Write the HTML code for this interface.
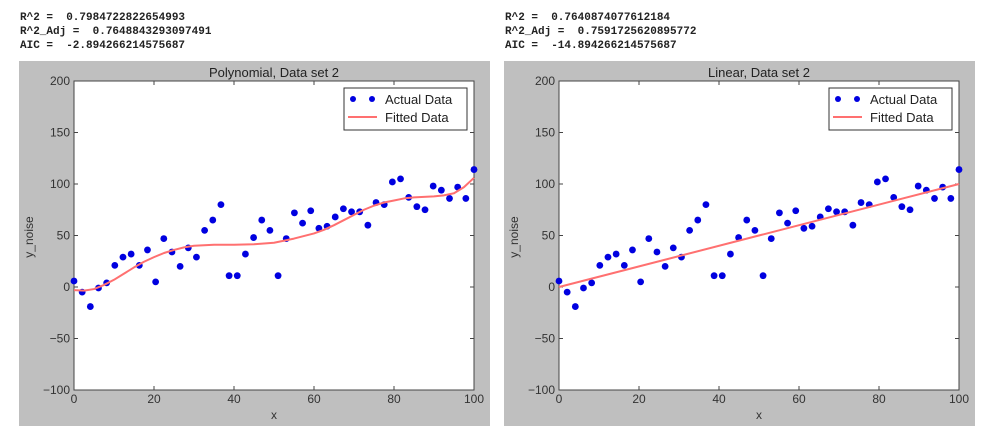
<!DOCTYPE html>
<html><head><meta charset="utf-8"><style>
body{margin:0;background:#fff;width:1000px;height:440px;overflow:hidden}
svg{display:block}
text{white-space:pre}
</style></head><body>
<svg id="c" width="1000" height="440" font-family="Liberation Sans, sans-serif"></svg>
<script>
const xTicks=[0,20,40,60,80,100];
const yTicks=[-100,-50,0,50,100,150,200];
const yNoise=[5.8,-5,-19,-1,4,21,29,32,21,36,5,47,34,20,38,29,55,65,80,11,11,32,48,65,55,11,47,72,62,74,57,59,68,76,73,73,60,82,80,102,105,87,78,75,98,94,86,97,86,114];
const polyX=[0,2.5,5,7.5,10,12.5,15,17.5,20,22.5,25,27.5,30,35,40,45,50,55,60,62.5,65,67.5,70,72.5,75,77.5,80,82.5,85,87.5,90,92.5,95,97.5,100];
const polyY=[-3,-3.5,-2,2,7,13,19,24.5,29,33,36,38.5,40,41,41,41.5,43,47,52,55.5,60,65,70,75,79,82,84,86,87,87.5,88,89,91,97,106];
const linX=[0,100];
const linY=[0,100];
const statsL=["R^2 =  0.7984722822654993","R^2_Adj =  0.7648843293097491","AIC =  -2.894266214575687"];
const statsR=["R^2 =  0.7640874077612184","R^2_Adj =  0.7591725620895772","AIC =  -14.894266214575687"];
const NS="http://www.w3.org/2000/svg";
const svg=document.getElementById('c');
function mk(t,a,p){const e=document.createElementNS(NS,t);for(const k in a)e.setAttribute(k,a[k]);(p||svg).appendChild(e);return e;}
function panel(ox,title,fx,fy,stats,nm){
  const g=mk('g',{});
  
  
  stats.forEach((s,i)=>{const t=mk('text',{x:ox+1,y:20+i*14,'font-family':'Liberation Mono, monospace','font-size':'11','font-weight':'bold',fill:'#222'},g);t.textContent=s;
    });
  const bg=mk('rect',{x:ox,y:61,width:471,height:365,fill:'#bfbfbf'},g);
  
  const L=ox+55,R=ox+455,T=81,B=390;
  const sx=v=>L+(v-0)/100*(R-L), sy=v=>B-(v+100)/300*(B-T);
  const pa=mk('rect',{x:L,y:T,width:R-L,height:B-T,fill:'#fff',stroke:'#444','stroke-width':1},g);
  
  xTicks.forEach(v=>{const x=sx(v);mk('line',{x1:x,x2:x,y1:B,y2:B-4,stroke:'#444'},g);mk('line',{x1:x,x2:x,y1:T,y2:T+4,stroke:'#444'},g);
    const t=mk('text',{x:x,y:403,'text-anchor':'middle','font-size':'12',fill:'#333'},g);t.textContent=v;
    });
  yTicks.forEach(v=>{const y=sy(v);mk('line',{x1:L,x2:L+4,y1:y,y2:y,stroke:'#444'},g);mk('line',{x1:R,x2:R-4,y1:y,y2:y,stroke:'#444'},g);
    const t=mk('text',{x:L-4,y:y+4,'text-anchor':'end','font-size':'12',fill:'#333'},g);t.textContent=(v<0?'\u2212'+(-v):v);
    });
  const tt=mk('text',{x:(L+R)/2,y:77,'text-anchor':'middle','font-size':'13',fill:'#222'},g);tt.textContent=title;
  
  const xl=mk('text',{x:(L+R)/2,y:419,'text-anchor':'middle','font-size':'12',fill:'#333'},g);xl.textContent='x';
  
  const yl=mk('text',{x:0,y:0,'text-anchor':'middle','font-size':'12',fill:'#333',transform:`translate(${ox+14},237) rotate(-90)`},g);yl.textContent='y_noise';
  
  const cg=mk('g',{},g);
  yNoise.forEach((v,i)=>{const c=mk('circle',{cx:sx(i*100/49),cy:sy(v),r:3.4,fill:'#0000e0'},cg);
    });
  const pl=mk('polyline',{points:fx.map((x,i)=>sx(x)+','+sy(fy[i])).join(' '),fill:'none',stroke:'#ff7070','stroke-width':2,'stroke-linejoin':'round'},g);
  
  const lg=mk('g',{},g);
  const lx=ox+325;
  mk('rect',{x:lx,y:88,width:123,height:42,fill:'#fff',stroke:'#333'},lg);
  mk('circle',{cx:lx+9,cy:99,r:3,fill:'#0000e0'},lg);mk('circle',{cx:lx+28,cy:99,r:3,fill:'#0000e0'},lg);
  mk('line',{x1:lx+4,x2:lx+33,y1:117,y2:117,stroke:'#ff7070','stroke-width':2},lg);
  const a=mk('text',{x:lx+41,y:104,'font-size':'13',fill:'#222'},lg);a.textContent='Actual Data';
  
  const f=mk('text',{x:lx+41,y:122,'font-size':'13',fill:'#222'},lg);f.textContent='Fitted Data';
  
}
panel(19,'Polynomial, Data set 2',polyX,polyY,statsL,'polynomial-panel');
panel(504,'Linear, Data set 2',linX,linY,statsR,'linear-panel');
</script>
</body></html>
